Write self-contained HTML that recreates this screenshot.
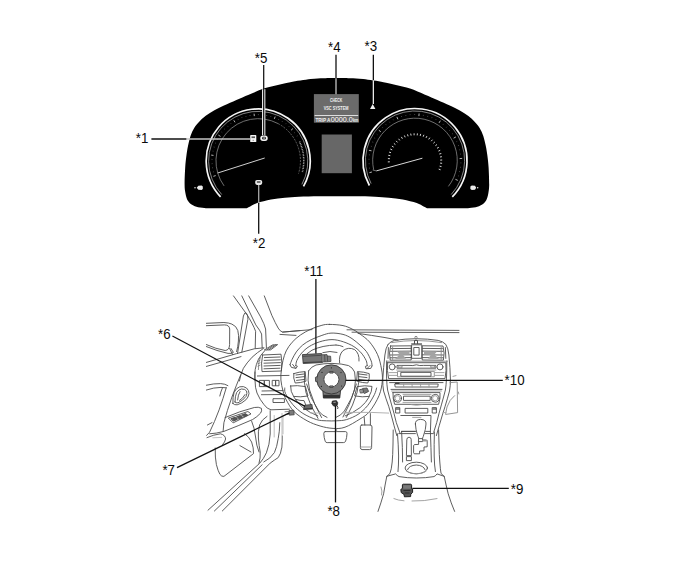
<!DOCTYPE html>
<html><head><meta charset="utf-8">
<style>
html,body{margin:0;padding:0;background:#fff;}
body{width:691px;height:564px;overflow:hidden;position:relative;font-family:"Liberation Sans",Arial,sans-serif;}
svg{position:absolute;left:0;top:0;}
.lb{font-family:"Liberation Sans",Arial,sans-serif;font-size:13.33px;fill:#0a0a0a;}
.ld{stroke:#111;stroke-width:1.3;fill:none;}
.g{stroke:#4c4c4c;stroke-width:0.9;fill:none;stroke-linecap:round;stroke-linejoin:round;}
</style></head><body>
<svg width="691" height="564" viewBox="0 0 691 564">
<!-- ===== CLUSTER ===== -->
<g id="cluster">
<path fill="#000" d="M336.9,78.1 C339.1,78.1 345.6,78.1 350.0,78.3 C354.4,78.5 357.6,78.4 363.2,79.1 C368.8,79.8 377.9,81.2 383.5,82.2 C389.1,83.2 392.6,84.1 397.0,85.2 C401.4,86.3 405.3,87.0 410.0,88.6 C414.7,90.2 420.4,92.8 425.0,94.7 C429.6,96.6 433.3,98.1 437.4,99.9 C441.5,101.7 446.1,103.7 449.8,105.5 C453.5,107.3 456.7,108.7 459.8,110.5 C462.9,112.3 465.9,114.2 468.4,116.1 C470.9,118.0 472.7,119.7 474.6,121.7 C476.5,123.7 478.2,125.5 479.6,127.9 C481.1,130.3 482.3,132.9 483.3,135.9 C484.3,138.9 485.1,142.7 485.8,145.9 C486.5,149.1 486.8,151.4 487.3,155.0 C487.8,158.6 488.3,162.5 488.6,167.4 C488.9,172.3 489.2,180.4 489.2,184.7 C489.1,189.0 488.8,190.8 488.3,193.4 C487.8,196.0 487.2,198.5 486.1,200.4 C485.0,202.3 483.5,203.5 481.8,204.7 C480.1,205.8 478.0,206.7 475.7,207.3 C473.4,207.9 469.3,208.0 468.0,208.2 L427.1,208.2 C426.5,207.9 425.3,207.3 423.6,206.4 C421.9,205.5 420.2,204.2 416.7,203.0 C413.2,201.8 407.4,200.4 402.8,199.5 C398.2,198.6 393.5,198.3 388.9,197.8 C384.3,197.3 380.6,196.9 375.0,196.7 C369.4,196.4 361.4,196.4 355.0,196.3 C348.6,196.2 339.9,196.2 336.9,196.2 C333.9,196.2 325.1,196.2 318.8,196.3 C312.4,196.4 304.4,196.4 298.8,196.7 C293.1,196.9 289.5,197.3 284.9,197.8 C280.3,198.3 275.6,198.6 271.0,199.5 C266.4,200.4 260.6,201.8 257.1,203.0 C253.6,204.2 251.9,205.5 250.2,206.4 C248.5,207.3 247.3,207.9 246.7,208.2 L205.8,208.2 C204.5,208.0 200.4,207.9 198.1,207.3 C195.8,206.7 193.7,205.8 192.0,204.7 C190.3,203.5 188.8,202.3 187.7,200.4 C186.6,198.5 186.0,196.0 185.5,193.4 C185.0,190.8 184.6,189.0 184.6,184.7 C184.5,180.4 184.9,172.3 185.2,167.4 C185.5,162.5 186.0,158.6 186.5,155.0 C187.0,151.4 187.3,149.1 188.0,145.9 C188.7,142.7 189.5,138.9 190.5,135.9 C191.5,132.9 192.7,130.3 194.2,127.9 C195.6,125.5 197.3,123.7 199.2,121.7 C201.1,119.7 202.9,118.0 205.4,116.1 C207.9,114.2 210.9,112.3 214.0,110.5 C217.1,108.7 220.3,107.3 224.0,105.5 C227.7,103.7 232.3,101.7 236.4,99.9 C240.5,98.1 244.2,96.6 248.8,94.7 C253.4,92.8 259.1,90.2 263.8,88.6 C268.5,87.0 272.4,86.3 276.8,85.2 C281.2,84.1 284.7,83.2 290.3,82.2 C295.9,81.2 305.0,79.8 310.6,79.1 C316.2,78.4 319.4,78.5 323.8,78.3 C328.2,78.1 334.7,78.1 336.9,78.1 Z"/>
<!-- left gauge -->
<path d="M220.6,196.8 A52,52 0 1 1 303.5,186.4" fill="none" stroke="#f6f6f6" stroke-width="1.7" />
<path d="M221.7,194.5 A49.6,49.6 0 1 1 301.9,184.4" fill="none" stroke="#bdbdbd" stroke-width="0.7" />
<path d="M224.1,185.9 A42.3,42.3 0 0 1 278.1,123.6" fill="none" stroke="#9c9c9c" stroke-width="0.7" />
<path d="M278.1,123.6 A42.3,42.3 0 0 1 298.5,173.6" fill="none" stroke="#8a8a8a" stroke-width="0.7" stroke-dasharray="2 1.2"/>
<path d="M299.5,141.6 A45.6,45.6 0 0 1 302.2,172.7" fill="none" stroke="#c8c8c8" stroke-width="1.5" stroke-dasharray="0.7 0.9"/>
<path d="M215.7,175.6 L213.4,176.3 M213.5,155.4 L211.2,155.1 M220.5,136.4 L218.4,135.1 M235.0,122.3 L233.8,120.3 M254.3,116.1 L254.1,113.7 M274.3,118.9 L275.2,116.6 M291.1,130.2 L292.9,128.6" stroke="#e0e0e0" stroke-width="0.8" fill="none"/>
<path d="M213.7,171.8 L212.9,172.0 M212.9,167.7 L212.1,167.9 M212.5,163.6 L211.7,163.7 M212.4,159.5 L211.6,159.4 M213.4,151.2 L212.7,151.1 M214.5,147.2 L213.7,147.0 M215.9,143.3 L215.2,143.0 M217.7,139.5 L217.0,139.2 M222.2,132.6 L221.6,132.1 M224.9,129.4 L224.3,128.9 M227.9,126.5 L227.4,125.9 M231.2,123.9 L230.7,123.3 M238.3,119.7 L237.9,118.9 M242.1,118.0 L241.8,117.3 M246.0,116.7 L245.8,116.0 M250.1,115.8 L249.9,115.0 M258.4,115.1 L258.4,114.3 M262.5,115.3 L262.6,114.5 M266.6,115.9 L266.8,115.1 M270.7,116.8 L270.9,116.1 M278.4,119.8 L278.8,119.1 M282.1,121.8 L282.5,121.1 M285.5,124.1 L286.0,123.5 M288.7,126.8 L289.3,126.2 M294.4,132.8 L295.0,132.3 M296.8,136.2 L297.5,135.8" stroke="#8a8a8a" stroke-width="0.6" fill="none"/>
<line x1="217.7" y1="173" x2="264.7" y2="158" stroke="#cfcfcf" stroke-width="1"/>
<!-- right gauge -->
<path d="M369.4,185.5 A52,52 0 1 1 452.3,196.8" fill="none" stroke="#f6f6f6" stroke-width="1.7" />
<path d="M371.1,183.6 A49.6,49.6 0 1 1 451.2,194.5" fill="none" stroke="#bdbdbd" stroke-width="0.7" />
<path d="M373.7,169.8 A42.3,42.3 0 1 1 448.4,186.4" fill="none" stroke="#9c9c9c" stroke-width="0.7" />
<path d="M371.9,172.0 L369.4,172.7 M371.5,150.8 L368.9,150.3 M380.8,131.8 L378.8,130.2 M397.9,119.3 L396.9,116.9 M418.9,116.1 L419.1,113.5 M439.0,122.9 L440.4,120.7 M453.6,138.2 L455.9,136.9 M459.6,158.6 L462.2,158.4 M455.4,179.3 L457.8,180.4" stroke="#e0e0e0" stroke-width="0.8" fill="none"/>
<path d="M370.0,168.0 L369.2,168.2 M369.5,163.7 L368.7,163.7 M369.4,159.3 L368.6,159.3 M369.7,154.9 L368.9,154.8 M371.6,146.4 L370.9,146.2 M373.2,142.3 L372.4,142.0 M375.1,138.4 L374.4,138.0 M377.4,134.7 L376.8,134.2 M383.0,128.0 L382.5,127.4 M386.3,125.1 L385.8,124.4 M389.8,122.5 L389.4,121.8 M393.6,120.2 L393.2,119.5 M401.7,116.9 L401.4,116.1 M405.9,115.8 L405.7,115.0 M410.2,115.1 L410.1,114.4 M414.6,114.9 L414.6,114.1 M423.3,115.7 L423.5,114.9 M427.6,116.7 L427.8,115.9 M431.7,118.1 L432.0,117.3 M435.7,119.9 L436.1,119.2 M443.1,124.6 L443.6,123.9 M446.4,127.4 L446.9,126.8 M449.4,130.6 L450.0,130.1 M452.1,134.0 L452.8,133.6 M456.5,141.6 L457.2,141.3 M458.1,145.7 L458.9,145.4 M459.3,149.9 L460.1,149.7 M460.2,154.2 L460.9,154.0 M460.5,162.9 L461.3,162.9 M460.1,167.2 L460.9,167.4 M459.2,171.5 L460.0,171.7 M458.0,175.7 L458.7,176.0" stroke="#8a8a8a" stroke-width="0.6" fill="none"/>
<path d="M389.8,161.8 L387.8,161.9 M389.9,158.7 L387.9,158.6 M390.3,155.7 L388.3,155.3 M391.0,152.7 L389.1,152.1 M392.2,149.9 L390.3,149.0 M393.6,147.1 L391.9,146.1 M395.4,144.6 L393.9,143.4 M397.5,142.4 L396.1,140.9 M399.8,140.4 L398.6,138.8 M402.4,138.7 L401.4,136.9 M405.2,137.3 L404.4,135.5 M408.1,136.3 L407.5,134.4 M411.1,135.6 L410.7,133.6 M414.1,135.3 L414.1,133.3 M417.2,135.4 L417.4,133.4 M420.2,135.9 L420.7,133.9 M423.2,136.7 L423.9,134.8 M426.0,137.9 L426.9,136.1 M428.7,139.4 L429.8,137.7 M431.2,141.2 L432.5,139.7 M433.4,143.3 L434.9,141.9 M435.4,145.7 L437.0,144.5 M437.0,148.3 L438.8,147.3 M438.4,151.1 L440.2,150.3 M439.3,154.0 L441.3,153.5 M440.0,157.0 L441.9,156.7 M440.2,160.1 L442.2,160.0 M440.1,163.1 L442.1,163.3 M439.6,166.2 L441.5,166.6 M438.7,169.1 L440.6,169.8" stroke="#ececec" stroke-width="0.9" fill="none"/>
<line x1="376.3" y1="170.9" x2="422.4" y2="158.2" stroke="#d8d8d8" stroke-width="1"/>
<path d="M372.7,170 L376.3,170.9" stroke="#9c9c9c" stroke-width="0.7"/>
<!-- center displays -->
<rect x="313.9" y="94.1" width="44.9" height="28.6" fill="#6b6b6b"/>
<line x1="314.6" y1="115.5" x2="358.2" y2="115.5" stroke="#dedede" stroke-width="1"/>
<text x="336.1" y="102.1" text-anchor="middle" font-size="4.9" font-weight="bold" fill="#f2f2f2" font-family="Liberation Sans, sans-serif" textLength="12.4" lengthAdjust="spacingAndGlyphs">CHECK</text>
<text x="336.1" y="109.9" text-anchor="middle" font-size="5.5" font-weight="bold" fill="#f2f2f2" font-family="Liberation Sans, sans-serif" textLength="24.8" lengthAdjust="spacingAndGlyphs">VSC SYSTEM</text>
<text x="315.4" y="122" font-size="5" font-weight="bold" fill="#f0f0f0" font-family="Liberation Sans, sans-serif" textLength="15" lengthAdjust="spacingAndGlyphs">TRIP A</text>
<text x="330.7" y="122.3" font-size="7.6" fill="#fff" font-family="Liberation Sans, sans-serif" textLength="22.2" lengthAdjust="spacingAndGlyphs">0000.0</text>
<text x="353" y="122.1" font-size="4.6" font-weight="bold" fill="#f0f0f0" font-family="Liberation Sans, sans-serif" textLength="5.4" lengthAdjust="spacingAndGlyphs">km</text>
<rect x="321.7" y="134.5" width="30.2" height="38.7" fill="#676767"/>
<!-- warning icons -->
<rect x="250.2" y="135.1" width="6.1" height="7" rx="0.7" fill="#f4f4f4"/>
<rect x="251.5" y="136.4" width="3.5" height="1.7" fill="#555"/>
<rect x="252.6" y="139.8" width="1.3" height="1" fill="#888"/>
<rect x="260.3" y="135.4" width="7.4" height="5.5" rx="2.6" fill="#f2f2f2"/>
<rect x="262.1" y="136.7" width="3.8" height="2.9" rx="1.3" fill="#222"/>
<rect x="263.6" y="137.1" width="0.9" height="2.1" fill="#eee"/>
<rect x="255.2" y="179.9" width="7" height="5" rx="1.8" fill="#eaeaea"/>
<rect x="256.9" y="181.2" width="3.6" height="1.6" fill="#555"/>
<path d="M372.7,103.9 L375.4,108.9 L370,108.9 Z" fill="#f0f0f0"/>
<circle cx="195" cy="187.8" r="0.75" fill="#eee"/>
<path d="M196.7,187.8 L198.4,185.8 L201.6,185.5 L202.8,186.6 L202.8,189 L201.6,190 L198.4,189.8 Z" fill="#ececec"/>
<circle cx="477.7" cy="187.8" r="0.7" fill="#eee"/>
<path d="M476.2,187.8 L475,185.8 L471.8,185.5 L470.4,186.6 L470.4,189 L471.8,190 L475,189.8 Z" fill="#ececec"/>
</g>

<!-- ===== LOWER DRAWING ===== -->
<g id="car" class="g">
<!-- A-pillar / windshield -->
<path d="M264.3,295.9 L271.8,315.3 Q275.5,323.5 278.2,328.1 Q280,331.3 282.6,332.1 L300,330.6"/>
<path d="M248.7,295.9 L260.6,316.9 Q264.6,324.5 265.6,329 L266.4,347.6"/>
<path d="M241.8,295.9 L255.8,324.9 Q260.4,331 261.6,334 L262.2,348"/>
<path d="M233.5,295.9 L246.3,313.7 Q253,324 255.6,331.3 L255.2,348.4"/>
<path d="M237.5,353.6 L243.4,316 Q244.6,311.6 246.4,313.2 Q248.4,315.6 247.9,319.3 L241.8,352.2"/>
<!-- mirror -->
<path d="M206.4,323.3 L223.9,322.5 Q229,322.8 231.9,324.1 Q236.4,326 237.8,330.5 Q239,335 238.4,341 Q238,347 236.6,351.6"/>
<path d="M206.4,325.7 L224.5,324.9 Q229.4,325 229.7,329 L229.6,344.6 Q229.4,350.2 225.2,350.5 Q216,349 206.4,344.6"/>
<path d="M206.4,346.6 Q217,351 228,353.4 Q231.6,353.8 233.4,352.4 L231,348.5"/>
<path d="M229.6,348.4 L232.6,354.6"/>
<!-- door top -->
<path d="M206.4,362.4 L236.7,353.6 L254.3,348.8 L264,347.8"/>
<path d="M206.4,366.4 L241,356.6"/>
<!-- small corner vent -->
<path d="M264.6,349.8 L272.4,345 L277.6,344.6 L271,349.6 Z"/>
<path d="M267,349.7 L273.6,345.2 M269.2,349.6 L275.6,345"/>
<!-- dash left end curves -->
<path d="M263.3,348.6 Q257,352.6 252.1,357.2 Q246.6,363 243.4,368.3 Q240.6,374 239.4,381"/>
<path d="M264.5,351 Q260.6,355 258.3,359.6 Q256,364.6 255.2,369.6 Q254.6,374 254.8,380"/>
<!-- side vent -->
<path d="M262.6,355 L281,354.2 Q282.4,362 281.4,371 L262,371.6 Q260.8,363 262.6,355 Z"/>
<path d="M264.4,357.6 L280,357 M264.2,360.4 L280.4,359.8 M264,363.2 L280.4,362.6 M264,366 L280.2,365.4 M264,368.8 L280,368.2"/>
<path d="M260.6,356 Q258.2,362 258.4,369.6" stroke="#888"/><path d="M258.6,359 l1.6,-1 M258.2,361.4 l1.8,-1 M258,363.8 l2,-1 M258,366.2 l2,-1" stroke="#666" stroke-width="0.7"/>
<!-- lower dash left panel -->
<path d="M255,372 L255,380 Q255,388 257,393 Q260,400 264,404.6 Q267,409 271,409.8 L289.4,409.2"/>
<path d="M257.4,376 L289,375.4"/>
<rect x="259.8" y="380.4" width="4.4" height="6.2"/><rect x="264.8" y="380.4" width="4.6" height="6.2"/>
<rect x="272.6" y="380.4" width="3" height="5.4"/><rect x="276" y="380.4" width="3" height="5.4"/>
<path d="M261.4,394.7 L284.6,394.5 M262,391 L283,390.6"/>
<rect x="273.4" y="398.7" width="11" height="3.8"/>
<!-- door inner -->
<path d="M206.4,385.2 Q214,383.4 220.7,383.6 Q225,383.8 227.9,385.6"/>
<path d="M206.4,390 Q214,387.4 221,387.4 L226,387.8"/>
<path d="M226.3,387.6 Q223,399 219.1,409.9 Q214.6,422 209.6,432.2 L206.6,435.4"/>
<path d="M222.4,388 Q220.6,392 219.8,396"/>
<path d="M240.7,374.8 Q236,386 231.9,397.1 Q227,411 223.9,422.7 L223.1,431.4"/>
<path d="M232.9,403.5 Q232.6,397 234.1,392.4 Q236,388 239.7,386.8 Q243.6,385.8 246.5,388 Q249.2,390.4 249,393.6 Q248.4,397.4 245.9,399.8 Q242,403.4 237.2,404.8 Q234.2,405.2 232.9,403.5 Z"/>
<path d="M235,402 Q235,396 236.6,392.6 Q238.6,389.4 241.4,389 Q245,388.8 246.6,391 Q247.4,393.6 246,396.4 Q243,400.6 238,402.8 Q236,403.2 235,402 Z"/><path d="M237.6,400 Q238,394.6 240,391.6 M239.6,400.4 Q243,398.4 245,394.6"/>
<path d="M225,417.6 Q240,411 254.3,407.5 Q258.6,406.6 261.4,408.3 Q262.2,411 260.6,413.1 Q257,417 252.7,419.5 Q238,426 223.9,431.4 Q216,433.6 209.6,433.8"/>
<path d="M228.7,417.9 L247.9,411.5 L251,413.9 L233.5,422.7 Z" fill="#fff"/>
<path d="M231.2,418.6 L235.2,417.2 L237.4,419.4 L233.6,421 Z M236.6,416.8 L240.4,415.4 L242.6,417.4 L238.8,419 Z M241.8,415 L245.4,413.6 L247.8,415.2 L244.2,416.8 Z" fill="#555" stroke="#444"/>
<path d="M207,437.6 Q214,434.6 220.4,433.8 Q225.4,435 225.6,439 Q225,442 222.6,444.6"/>
<path d="M212.8,437.8 L221.6,437.4" stroke="#bbb"/>
<path d="M207.4,425 L212,422.6"/>
<!-- door pocket -->
<path d="M215.2,448 Q215,458 216.4,464.6 Q218,471 219.9,474.3 Q221.6,476.8 223.9,476.4 L253.5,453.6 Q253.8,448 251.6,442 Q249,436.6 244.6,433.6"/>
<path d="M239.9,445.6 L251,452"/>
<!-- B-pillar / sill curves -->
<path d="M267,416.3 Q261.6,419.6 259.6,425 Q257.8,432 258.4,438 Q259,446 260.2,452 Q260.6,458 259,463.4"/>
<path d="M251.6,421 Q254.6,428 255.4,436 Q256.4,446 259,452"/>
<path d="M270.2,410.7 L270.2,434 Q269.6,445 266.4,452.8 Q263.6,459 259.8,463.2" />
<path d="M274.2,415.5 L274.2,437" stroke="#b5b5b5"/>
<path d="M283,416.3 L283,433.8" stroke="#b5b5b5"/>
<path d="M279.8,422.7 Q279.6,432 278.2,438.6 Q277,447 274.4,452.6 Q270.6,458.6 263.8,462"/>
<path d="M208,510.2 L259,463.9"/>
<path d="M214.4,511 L262.2,464.7"/>
<path d="M222.3,511 L270.2,463.1 Q275,459.6 278.2,457.6 Q281,454 281.8,447 Q282.6,441 282.4,436"/>
</g>

<!-- ===== STEERING WHEEL ===== -->
<g id="wheel" class="g">
<!-- dash top lines -->
<path d="M282.6,332.1 L300,330.6 L312,329.6"/>
<path d="M280,334.4 L296,335.4"/>
<path d="M347,329.8 L459,330.4"/>
<path d="M352,332.2 L459,332.6"/>
<path d="M358,333.4 Q372,335.4 384,337.4 Q392,338.8 398,340.2"/>
<!-- outer rim -->
<path d="M329.5,324.4 C333.0,324.4 339.2,324.8 343.0,325.6 C346.8,326.4 349.2,327.6 352.0,329.0 C354.8,330.4 357.1,331.8 360.0,334.0 C362.9,336.2 366.7,338.6 369.6,342.0 C372.5,345.4 375.6,350.2 377.6,354.7 C379.6,359.2 380.7,364.6 381.5,369.0 C382.3,373.4 382.7,376.6 382.3,381.0 C381.9,385.4 381.2,390.4 379.1,395.5 C377.0,400.6 372.8,407.6 369.6,411.5 C366.4,415.4 364.1,416.4 360.0,419.0 C355.9,421.6 349.5,425.6 345.0,427.2 C340.5,428.8 337.2,428.6 333.1,428.4 C329.0,428.2 324.4,427.3 320.1,426.0 C315.8,424.7 311.4,423.2 307.1,420.8 C302.8,418.4 297.6,415.2 294.1,411.7 C290.6,408.2 288.2,403.4 286.3,400.0 C284.4,396.6 283.9,394.3 283.0,391.0 C282.1,387.7 281.2,383.5 280.9,380.0 C280.6,376.5 281.0,373.3 281.4,370.0 C281.8,366.7 282.2,363.6 283.0,360.4 C283.8,357.2 284.7,353.9 286.2,350.9 C287.7,347.9 289.7,345.0 292.1,342.3 C294.5,339.6 297.4,337.1 300.6,334.9 C303.8,332.7 307.6,330.6 311.2,329.0 C314.8,327.4 318.8,326.1 321.9,325.3 C324.9,324.5 326.0,324.3 329.5,324.4 Z"/>
<!-- inner rim -->
<path d="M290.0,364.7 C290.4,363.8 291.1,361.5 292.1,359.4 C293.2,357.3 294.5,354.3 296.3,351.9 C298.1,349.5 300.2,347.0 302.7,345.0 C305.2,343.0 308.0,341.3 311.2,339.7 C314.4,338.1 318.6,336.5 321.9,335.4 C325.2,334.3 327.5,333.3 331.0,333.1 C334.5,332.9 339.5,333.5 343.0,334.4 C346.5,335.3 349.2,336.8 352.0,338.6 C354.8,340.4 357.6,343.0 360.0,345.1 C362.4,347.2 364.5,348.9 366.4,351.5 C368.3,354.1 370.3,358.6 371.2,361.0 C372.1,363.4 371.9,365.1 372.0,365.9"/>
<path d="M295.8,365.7 C296.0,364.8 295.9,362.5 296.9,360.4 C297.9,358.3 299.7,355.3 301.7,353.0 C303.7,350.7 306.1,348.5 309.1,346.6 C312.1,344.7 315.9,343.0 319.7,341.8 C323.5,340.6 328.1,339.6 332.0,339.6 C335.9,339.6 339.7,340.6 343.3,341.8 C346.9,343.0 350.9,344.7 353.9,346.6 C356.9,348.5 359.3,350.7 361.3,353.0 C363.3,355.3 365.1,358.3 366.1,360.4 C367.1,362.5 367.0,364.8 367.2,365.7"/>
<path d="M284.8,388.0 C284.9,388.9 284.1,390.7 285.5,393.5 C286.9,396.3 290.0,401.4 292.9,404.7 C295.8,408.0 299.0,410.9 302.9,413.4 C306.8,415.9 312.6,418.4 316.5,419.6 C320.4,420.8 323.0,420.6 326.4,420.8 C329.8,421.0 333.2,421.0 336.6,420.8 C340.0,420.6 342.9,420.7 346.5,419.6 C350.1,418.5 354.5,416.7 358.0,414.4 C361.5,412.1 364.9,408.9 367.6,405.6 C370.3,402.3 372.9,397.5 374.4,394.6 C375.9,391.7 376.2,389.1 376.6,388.0"/>
<path d="M293.6,396.6 Q297,403 302.9,407.6 Q310,413 317.8,415.9"/>
<path d="M369.4,396.6 Q366,403 360.1,407.6 Q353,413 345.2,415.9"/>
<path d="M336,345 Q322,345.4 312,350.2 Q306.4,353.4 303.6,357.6"/>
<path d="M336,345 Q340,345.2 343,346.6"/>
<!-- upper spoke pads -->
<path d="M290,364.7 L291.4,367.4 L296,368.4 L297.4,366.2 L295.8,365.7 M292.6,364.4 L295.6,368.2"/>
<path d="M372,365.9 L370.8,368.4 L366,368.8 L365.4,366.4 L367.2,365.7 M370,365.6 L367,368.6"/>
<!-- hub outline -->
<path d="M308.6,370.8 Q311.4,366.4 316,365 Q324,363.4 332,363.4 Q342,363.6 348.6,365.6 Q352.6,367.4 354.6,372 Q356.4,380 354.4,390 Q350,405 343,417 M308.6,370.8 Q307,380 309.6,390 Q314,405 321.6,417.6"/>
<path d="M304.6,372 Q303.4,382 306,392.6 Q310,405.6 318,418.4"/>
<path d="M358.6,372.6 Q359.6,382 357,392.6 Q353.4,405 346.4,417.4"/>
<path d="M306.6,384 Q310,398 318.6,411 Q322,415.6 327,417.4"/>
<path d="M356.4,384 Q353,398 344.4,411 Q341,415.6 336,417.4"/>
<!-- left switch pads -->
<path d="M293.8,373.6 Q299,371.8 305.2,371.6 L306,381.2 Q300,383 295.2,383 Q293,378 293.8,373.6 Z"/>
<path d="M296,375 L304,374 M296,377.6 L304.4,376.6 M296.6,380.4 L304.6,379.4"/>
<path d="M290.6,386 Q297,385 305.4,386.6 L308,396 Q300,397.4 293.6,396.4 Q290.4,391.6 290.6,386 Z"/>
<path d="M296,399.4 Q300,400.8 304,400.6 L306.6,407"/>
<!-- right switch pads -->
<path d="M357.8,371.6 Q364,371.8 369.2,373.6 Q370,378 367.8,383 Q363,383 357,381.2 Z"/>
<path d="M359,374 L367,375 M358.6,376.6 L367,377.6 M358.4,379.4 L366.4,380.4"/>
<path d="M357.4,386.6 Q365,385 372,386.4 Q372,391.6 369,396.4 Q362.6,397.4 355,396 Z"/>
<path d="M363,388.4 L367,388 L368.6,391.4 L364.6,393.4 Z" fill="#777"/>
<path d="M360,389.6 L363,389 L363.6,392.6 L360.8,393 Z" fill="#999"/>
<!-- binnacle gauge seen through wheel -->
<path d="M339.6,362.8 Q338.6,355 343,350.6 Q348.6,346.6 354.6,349.6 Q359.6,353.4 359,361"/>
<path d="M322.8,352.6 Q330,350.4 337,352.4"/>
<!-- bottom spoke light lines -->
<path d="M310.4,413 L320,413" stroke="#b5b5b5"/>
<path d="M343,413 L352.6,413" stroke="#b5b5b5"/>
</g>
<!-- ===== COMPONENTS ===== -->
<g id="parts">
<!-- *11 module -->
<path d="M302.4,354.6 L321.6,353.5 L322.4,362.6 L303.2,363.5 Z" fill="#747474" stroke="#333" stroke-width="0.8"/>
<path d="M303,356.4 L321.6,355.3" stroke="#3a3a3a" stroke-width="0.7"/><path d="M303.2,362.6 L322.2,361.8" stroke="#3a3a3a" stroke-width="0.9"/>
<path d="M321.6,354.8 L327,354.6 L327.4,356 L330.6,356.2 L331,361.4 L327,361.8 L322.2,362" fill="#7e7e7e" stroke="#333" stroke-width="0.7"/>
<path d="M324.6,355 L325,361.8 M327.4,356 L327.6,361.6" stroke="#333" stroke-width="0.6"/>
<!-- *10 spiral cable -->
<path d="M322.8,390 L340.6,390 L339.8,397.9 L323.4,397.9 Z" fill="#7a7a7a" stroke="#222" stroke-width="0.8"/>
<rect x="323.2" y="394.8" width="16.8" height="3.4" fill="#333"/>
<circle cx="331.4" cy="379.4" r="11.1" fill="none" stroke="#7a7a7a" stroke-width="7"/>
<circle cx="331.4" cy="379.4" r="14.6" fill="none" stroke="#2a2a2a" stroke-width="0.8"/>
<circle cx="331.4" cy="379.4" r="7.5" fill="#fff" stroke="#2a2a2a" stroke-width="0.8"/>
<path d="M317.4,376.4 L315.4,377.4 L315.6,381.4 L317.6,382.2" fill="#777" stroke="#222" stroke-width="0.7"/>
<path d="M329.8,371.6 h3.2 v1.6 h-3.2 Z M329.8,385.8 h3.2 v1.6 h-3.2 Z" fill="#7a7a7a" stroke="#2a2a2a" stroke-width="0.5"/>
<circle cx="331.4" cy="367.8" r="0.6" fill="#222"/><circle cx="321.4" cy="386.4" r="0.6" fill="#222"/><circle cx="341.6" cy="386" r="0.6" fill="#222"/><circle cx="322" cy="372.4" r="0.6" fill="#222"/><circle cx="341" cy="372.6" r="0.6" fill="#222"/>
<!-- *8 -->
<path d="M332.4,401 L336.4,400.6 L337.8,402.8 L337.2,405.4 L335.4,406.6 L333,405.6 L331.8,403.2 Z" fill="#333" stroke="#111" stroke-width="0.6"/>
<path d="M333.4,402.4 L335.8,402.2" stroke="#ccc" stroke-width="0.7"/>
<path d="M336.8,405.6 Q338.8,407 337.6,409" fill="none" stroke="#333" stroke-width="0.9"/>
<!-- *6 -->
<path d="M304.6,405.2 L312,404.4 L312.5,409.1 L303.5,409.6 Z" fill="#6a6a6a" stroke="#333" stroke-width="0.7"/><path d="M303.8,409 L312.4,408.5" stroke="#333" stroke-width="1"/>
<!-- *7 -->
<path d="M289,410.6 L293.8,410.2 L294.2,414.8 L289.4,415.2 Z" fill="#7a7a7a" stroke="#3a3a3a" stroke-width="0.7"/>
<path d="M284.6,411.8 L289,411.4 M285,414.4 L289.2,414.4" stroke="#555" stroke-width="0.7"/>
<!-- *9 -->
<path d="M402.4,485 Q402.4,484.2 403.4,484.2 L410.4,484.2 Q411.6,484.2 411.6,485.2 L411.6,488.6 L412.6,489 L412.6,492.4 L410.8,494.2 L410.6,496.6 L404.4,496.8 L404,494.4 L401.2,492.6 L400.8,489.4 L402.4,488.4 Z" fill="#555" stroke="#111" stroke-width="0.9"/>
<rect x="403.2" y="485.2" width="7.6" height="3.6" fill="#7a7a7a"/>
<path d="M403.4,490.6 L410.4,490.4 M404.6,493 L409.6,493" stroke="#222" stroke-width="0.8"/>
</g>

<!-- ===== CENTER STACK ===== -->
<g id="stack" class="g">
<!-- outer outline -->
<path d="M388,344.4 Q391,341.2 394.4,340.4 Q405,338.8 416,338.7 Q428,338.8 438.2,340.4 Q443,341.4 445.8,344.4 Q448.2,348 448.9,355 Q450.2,368 450.4,379 Q450.5,386 449.5,391 Q447.4,399 445.1,406.3 Q442,416 439.2,425.8 L436.4,435.6"/>
<path d="M388,344.4 Q385.6,348 384.9,355 Q383.4,368 382.8,379 Q382.6,386 383.6,391 Q386,399 388.7,406.3 Q391.6,416 394.1,425.8 L396.8,435.6"/>
<path d="M386.6,361 Q386.1,381 387.6,390 Q389.4,397 391.4,404.1 Q394,413 396.3,422.6 L400.1,433.4"/>
<path d="M446.8,361 Q446.9,381 445.4,390 Q443.6,397 441.6,404.1 Q439,413 436.7,422.6 L433.7,432.3"/>
<path d="M391.6,342.6 Q404,340.6 416,340.5 Q429,340.6 441.6,342.6" stroke="#888"/>
<!-- top knob -->
<path d="M414.4,343.6 L414.6,340.6 Q416,339.4 417.4,340.6 L417.6,343.6" stroke="#333"/>
<path d="M414.8,337 Q416,335.8 417.2,337" />
<path d="M411.6,343.8 L421.6,343.8"/>
<!-- vents -->
<path d="M390.6,346 L411.2,345.8 L411.2,360 L390.2,360.2 Q388.6,353 390.6,346 Z"/>
<path d="M391.2,348.6 L411.2,348.4 M390.6,351.3 L411.2,351.1 M390.4,355 L411.2,354.8 M390.4,357.8 L411.2,357.6"/>
<path d="M397,351.4 L409.6,351.2 L409.6,354.6 L403,354.8 L406,358.8 L395,359 L399.6,354.6 Z" fill="#a4a4a4" stroke="none"/>
<path d="M422.6,345.8 L443,346 Q445,353 443.4,360.2 L422.6,360 Z"/>
<path d="M422.6,348.4 L442.4,348.6 M422.6,351.1 L443,351.3 M422.6,354.8 L443.2,355 M422.6,357.6 L443.2,357.8"/>
<path d="M424,351.2 L437,351.4 L434.4,354.6 L439,359 L428,358.8 L431,354.8 L424,354.6 Z" fill="#a4a4a4" stroke="none"/>
<path d="M388.4,347.6 L388,358.4 M445.4,347.6 L445.8,358.4"/>
<path d="M392.6,347 L392.6,359.4 M441.2,347 L441.2,359.4" stroke="#888"/>
<!-- hazard -->
<path d="M412,344.8 L421.8,344.8 L421.8,358.3 L412,358.3 Z"/>
<rect x="414.2" y="347.5" width="4.9" height="7.6"/>
<path d="M386.6,361.2 L447.4,361.2" stroke="#888"/>
<!-- audio -->
<path d="M387.6,362.7 L445.8,362.7 Q446.6,370.6 445,378.6 L388.6,378.6 Q386.8,370.6 387.6,362.7 Z"/>
<circle cx="392.2" cy="366.9" r="3"/><circle cx="440" cy="366.9" r="3"/>
<path d="M397.4,365.4 L409,365.4 Q413,366 416.4,364.8 Q419.6,366 423.6,365.4 L435.9,365.4 L435.9,368.2 L397.4,368.2 Z"/>
<rect x="398.6" y="365.9" width="3.4" height="1.9" stroke="#888"/><rect x="431.2" y="365.9" width="3.4" height="1.9" stroke="#888"/>
<path d="M396.6,370 L436,370" stroke="#999"/>
<path d="M397.9,371.4 L434.3,371.4 L434.3,376.8 L397.9,376.8 Z" stroke="#888"/>
<rect x="401.2" y="372.4" width="29.8" height="3.8"/>
<path d="M389,372.6 L397,372.6 M389.4,375.4 L397.4,375.4 M435.2,372.6 L444,372.6 M435,375.4 L443.6,375.4" stroke="#999"/>
<!-- button strip -->
<path d="M389.6,382.6 L443,382.6"/>
<path d="M395.1,384 L438.2,384 L437.8,387 L395.6,387 Z"/>
<path d="M395.4,383.2 L399,383.2" stroke="#222" stroke-width="1.1"/>
<path d="M403.6,384 L403.8,387 M412,384 L412.2,387 M420.6,384 L420.6,387 M429,384 L429,387" stroke="#999"/>
<path d="M391,389.4 L442,389.4"/>
<path d="M391.6,391 L441.4,391" stroke="#999"/>
<!-- climate -->
<path d="M393,392.6 L440,392.6 Q440.6,398.4 438.6,404.3 L394.6,404.3 Q392.6,398.4 393,392.6 Z"/>
<circle cx="397.6" cy="398.3" r="3.9"/><circle cx="435.2" cy="398.3" r="3.9"/>
<circle cx="397.6" cy="398.3" r="2.6" stroke="#999"/><circle cx="435.2" cy="398.3" r="2.6" stroke="#999"/>
<rect x="403.9" y="396.2" width="26.3" height="4.2"/>
<path d="M403,394.4 L431,394.4 M403,402.4 L431,402.4" stroke="#999"/>
<path d="M411,404.6 Q416.4,406 422,404.6" stroke="#999"/>
<!-- below climate -->
<rect x="396" y="407.6" width="3.8" height="5.4"/><rect x="432.6" y="407.6" width="3.8" height="5.4"/>
<path d="M396.4,409 L399.4,409 M433,409 L436,409" stroke="#222" stroke-width="1"/>
<rect x="405.5" y="408.4" width="22.3" height="4.6"/>
<!-- shifter surround -->
<path d="M400.8,415.5 L431,415.5 L430.4,431.4 L425.6,431.4 M415.4,431.4 L401.6,431.4 Z"/>
<path d="M412.6,417.4 L421,417.4" stroke="#999"/>
<!-- shifter knob -->
<path d="M415.4,424 Q415,419.6 420.6,419.4 Q426.4,419.6 426,424 Q425.6,430 424,434 Q423.4,436.4 422.4,438.6 L418.8,438.6 Q418,436.4 417.2,434 Q415.8,430 415.4,424 Z" fill="#fff"/>
<path d="M418.6,438.6 L418.4,441.6 L422.6,441.6 L422.6,438.6"/>
<path d="M398.8,433.6 L415.4,433.6 M425,433.6 L433.4,433.6" />
<!-- gate -->
<path d="M406.8,439.4 Q406.8,437.4 409,437.2 Q411.2,437.4 411.2,439.4 L411.4,455.6 L406.8,455.6 Z"/>
<path d="M406.8,456.6 L411.4,456.6 L411.4,460.6 L406.8,460.6 Z"/>
<path d="M418.6,441.6 L418.6,444.4 L414.4,444.6 Q413.6,445 413.6,446 L413.6,452.8 Q413.8,453.8 414.8,453.8 L419.6,453.8 L419.6,451 L424,450.8 L424,447 L427.2,446.8 L427.2,441.2 Q427,440 425.6,440 L422.6,440"/>
<path d="M423,440.6 L427,440.6" stroke="#999" stroke-width="1.6"/>
<!-- console sides -->
<path d="M393.2,430 L393,444 Q392.8,456 392.2,462 Q391.4,470 390,473.1 Q388.6,475.4 386.8,476.3 Q385,485 383.6,493.8 Q381,503 378,511.4"/>
<path d="M438.6,430 L439,444 Q439.2,456 439.8,462 Q440.4,470 441,473.1 Q442.4,475.4 444.2,476.3 Q446,485 448.2,493.8 Q451,503 454.6,511.4"/>
<path d="M397.5,433.8 Q398.4,445 398.6,456 Q398.6,466 398,471.6"/>
<path d="M434.4,432 Q434,445 434.2,456 Q434.4,466 435.4,471.6"/>
<path d="M401.6,431.4 Q402.6,448 402.6,462"/>
<path d="M430.4,431.4 Q431,448 431.4,462"/>
<!-- cup holder -->
<ellipse cx="416.3" cy="468" rx="11.2" ry="5.8"/>
<path d="M407.6,469.6 Q409,465.4 416.3,465 Q423.6,465.4 425,469.6" />
<path d="M406.6,471.4 Q410,473.8 416.3,473.8 Q422.6,473.8 426,471.4" stroke="#999"/>
<!-- console top edge -->
<path d="M386.8,476.3 L395.6,473.9 Q397,475.6 399,476.6 Q407,478 416.3,478 Q426,478 434,476.6 Q436,475.6 437,473.9 L444.2,476.3"/>
<path d="M393.9,498.6 Q398,500.4 404,500.8 M412,501 Q424,501.4 437,498.6" stroke="#999"/>
<path d="M381,487 Q382.6,491 381.6,495" stroke="#999"/>
<!-- right panel -->
<path d="M450,382.6 L457.2,382 L457.6,412.6 L446,414.4" stroke="#888"/>
<path d="M454.6,395.6 Q449.4,399.6 447,407 L445.6,414" stroke="#888"/>
<path d="M453,376.4 L456,375.6 M458.4,392 L458.8,394" stroke="#999"/>
<path d="M345,412.4 L371,412.4 L388.7,413.1 M443,412.4 L446,412.6" stroke="#a8a8a8"/>
</g>
<!-- ===== PEDALS ===== -->
<g id="pedals" class="g">
<path d="M325.2,431.6 L345.6,431.6 Q347.2,431.8 347,433.6 Q346.8,438 345.6,441.2 Q345,442.6 343.4,442.6 L327.2,442.6 Q325.6,442.6 325.2,441.2 Q324,438 323.8,433.6 Q323.8,431.8 325.2,431.6 Z"/>
<path d="M336.6,431.4 L336.6,428.6" stroke="#999"/>
<path d="M361.8,425 L370.4,425 Q372,425.2 372,427 L371.6,447.6 Q371.4,449.6 369.6,449.6 L362,449.6 Q360.4,449.4 360.4,447.6 L360.4,426.6 Q360.4,425 361.8,425 Z"/>
<path d="M364.2,417.4 L364.8,425 M370.4,413.6 L370.4,425.2"/>
<path d="M361.4,447 L371,447" stroke="#999"/>
<path d="M282,413.4 L282,448" stroke="#b5b5b5"/>
</g>
<!-- ===== LOWER LEADERS & LABELS ===== -->
<g id="lowlabels">
<line x1="315.9" y1="279" x2="315.9" y2="353.4" stroke="#111" stroke-width="1.3"/>
<line x1="172.4" y1="336" x2="305" y2="406.4" stroke="#111" stroke-width="1.3"/>
<line x1="177" y1="467.6" x2="289.4" y2="412.9" stroke="#111" stroke-width="1.3"/>
<line x1="335.5" y1="406" x2="335.5" y2="502.4" stroke="#111" stroke-width="1.3"/>
<line x1="345.6" y1="380.3" x2="502.8" y2="380.3" stroke="#111" stroke-width="1.3"/>
<line x1="412.4" y1="488.3" x2="508.8" y2="488.3" stroke="#111" stroke-width="1.3"/>
<text class="lb" transform="translate(158,339) scale(1,1.04)">*6</text>
<text class="lb" transform="translate(162.4,475) scale(1,1.04)">*7</text>
<text class="lb" transform="translate(327.4,516) scale(1,1.04)">*8</text>
<text class="lb" transform="translate(510.8,494) scale(1,1.04)">*9</text>
<text class="lb" transform="translate(504.6,384.6) scale(1,1.04)">*10</text>
<text class="lb" transform="translate(304.2,276) scale(1,1.04)">*11</text>
</g>
<!-- ===== LEADERS & LABELS (top) ===== -->
<g id="toplabels">
<line x1="151.4" y1="139" x2="186.6" y2="139" stroke="#111" stroke-width="1.3"/>
<line x1="186.4" y1="139" x2="250.2" y2="139" stroke="#c4c4c4" stroke-width="1.3"/>
<line x1="263.7" y1="89.2" x2="263.7" y2="135.2" stroke="#f4f4f4" stroke-width="3.3"/>
<line x1="263.7" y1="65" x2="263.7" y2="135.2" stroke="#111" stroke-width="1.25"/>
<line x1="336" y1="54.8" x2="336" y2="78.6" stroke="#111" stroke-width="1.3"/>
<line x1="336" y1="78.2" x2="336" y2="94.2" stroke="#c4c4c4" stroke-width="1.3"/>
<line x1="373.35" y1="54.8" x2="373.35" y2="80.6" stroke="#111" stroke-width="1.3"/>
<line x1="373.35" y1="80.2" x2="373.35" y2="104" stroke="#e8e8e8" stroke-width="1.3"/>
<line x1="258.7" y1="185" x2="258.7" y2="204" stroke="#a8a8a8" stroke-width="1.3"/>
<line x1="258.7" y1="203" x2="258.7" y2="233.8" stroke="#111" stroke-width="1.3"/>
<text class="lb" transform="translate(135.8,143) scale(1,1.04)">*1</text>
<text class="lb" transform="translate(252.8,248) scale(1,1.04)">*2</text>
<text class="lb" transform="translate(364.6,51) scale(1,1.04)">*3</text>
<text class="lb" transform="translate(328,52) scale(1,1.04)">*4</text>
<text class="lb" transform="translate(254.8,62.6) scale(1,1.04)">*5</text>
</g>
</svg>
</body></html>
